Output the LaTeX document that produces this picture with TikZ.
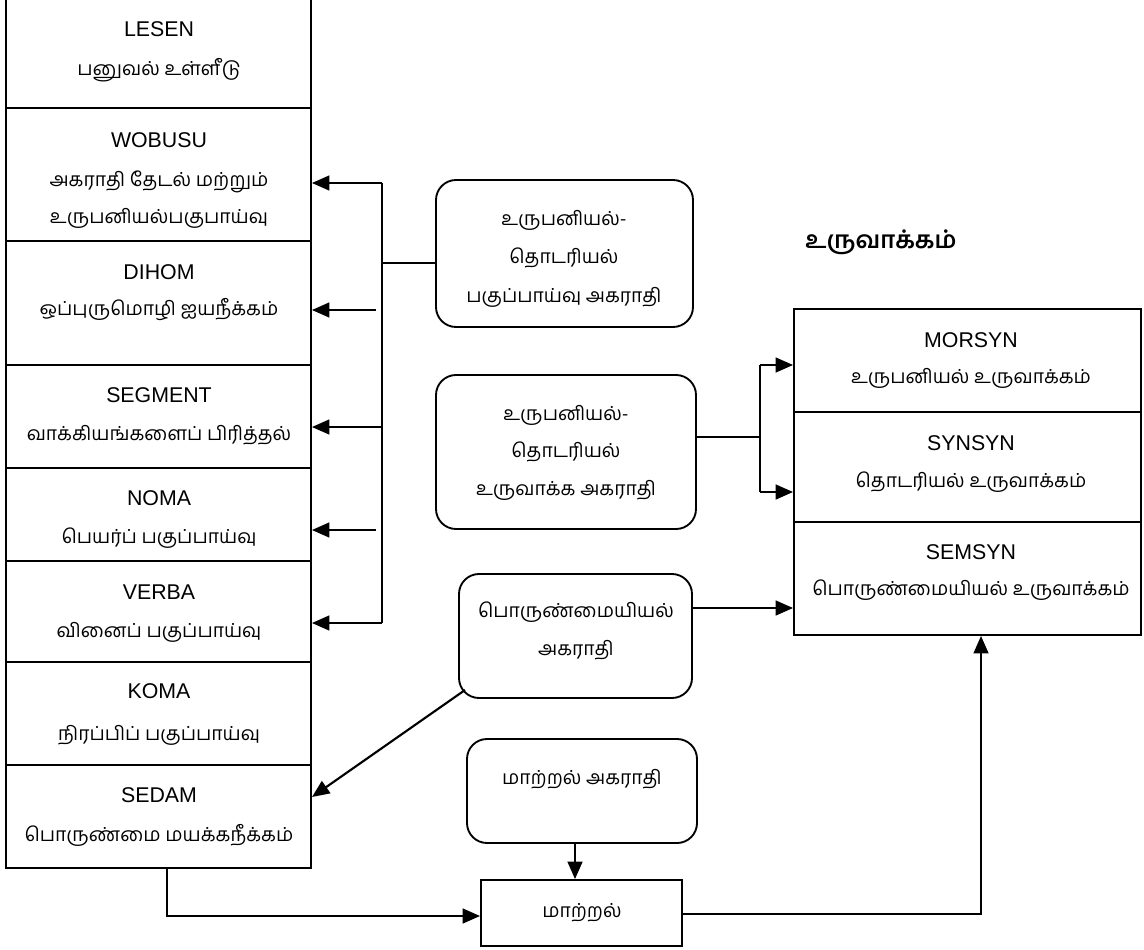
\documentclass[tikz,border=0pt]{standalone}
\usepackage{fontspec}
\setmainfont{Liberation Sans}
\newfontfamily\ta[Script=Tamil]{Hind Madurai}
\usetikzlibrary{arrows.meta,fit}
\tikzset{
  box/.style={draw, line width=1.4pt, inner sep=0pt},
  rbox/.style={draw, line width=1.4pt, inner sep=0pt, rounded corners=15pt},
  lat/.style={font=\fontsize{16}{18}\selectfont, inner sep=0pt},
  tam/.style={font=\fontsize{14.5}{16}\selectfont\ta, inner sep=0pt},
  ttl/.style={font=\fontsize{18}{20}\selectfont\ta\bfseries, inner sep=0pt},
  ln/.style={line width=1.5pt},
  arr/.style={line width=1.6pt, -{Triangle[length=13pt,width=11pt]}},
}
\begin{document}
\begin{tikzpicture}[x=0.75pt,y=-0.75pt]
\useasboundingbox (0,0) rectangle (1144,949);
% left column boxes
\node[box, fit={(6,-10)(311,108)}] (lesen) {};
\node[box, fit={(6,108)(311,241)}] (wobusu) {};
\node[box, fit={(6,241)(311,365)}] (dihom) {};
\node[box, fit={(6,365)(311,468)}] (segment) {};
\node[box, fit={(6,468)(311,561)}] (noma) {};
\node[box, fit={(6,561)(311,662)}] (verba) {};
\node[box, fit={(6,662)(311,765)}] (koma) {};
\node[box, fit={(6,765)(311,868)}] (sedam) {};
% left texts
\node[lat] (t1) at (159,29) {LESEN};
\node[tam] (t1a) at (159,70) {பனுவல் உள்ளீடு};
\node[lat] (t2) at (159,140) {WOBUSU};
\node[tam] (t2a) at (159,182) {அகராதி தேடல் மற்றும்};
\node[tam] (t2b) at (159,218) {உருபனியல்பகுபாய்வு};
\node[lat] (t3) at (159,272) {DIHOM};
\node[tam] (t3a) at (159,310) {ஒப்புருமொழி ஐயநீக்கம்};
\node[lat] (t4) at (159,395) {SEGMENT};
\node[tam] (t4a) at (159,435) {வாக்கியங்களைப் பிரித்தல்};
\node[lat] (t5) at (159,498) {NOMA};
\node[tam] (t5a) at (159,538) {பெயர்ப் பகுப்பாய்வு};
\node[lat] (t6) at (159,592) {VERBA};
\node[tam] (t6a) at (159,632) {வினைப் பகுப்பாய்வு};
\node[lat] (t7) at (159,691) {KOMA};
\node[tam] (t7a) at (159,735) {நிரப்பிப் பகுப்பாய்வு};
\node[lat] (t8) at (159,795) {SEDAM};
\node[tam] (t8a) at (159,835) {பொருண்மை மயக்கநீக்கம்};
% rounded dictionary boxes
\node[rbox, fit={(436,180)(693,327)}] (d1) {};
\node[tam] (d1a) at (564,220) {உருபனியல்-};
\node[tam] (d1b) at (564,258) {தொடரியல்};
\node[tam] (d1c) at (564,297) {பகுப்பாய்வு அகராதி};
\node[rbox, fit={(436,375)(696,529)}] (d2) {};
\node[tam] (d2a) at (566,415) {உருபனியல்-};
\node[tam] (d2b) at (566,452) {தொடரியல்};
\node[tam] (d2c) at (566,490) {உருவாக்க அகராதி};
\node[rbox, fit={(459,574)(692,698)}] (d3) {};
\node[tam] (d3a) at (576,612) {பொருண்மையியல்};
\node[tam] (d3b) at (576,650) {அகராதி};
\node[rbox, fit={(467,739)(697,843)}] (d4) {};
\node[tam] (d4a) at (582,779) {மாற்றல் அகராதி};
\node[box, fit={(481,880)(682,946)}] (mat) {};
\node[tam] (mata) at (582,913) {மாற்றல்};
% right column
\node[ttl] (title) at (881,242) {உருவாக்கம்};
\node[box, fit={(794,309)(1141,412)}] (morsyn) {};
\node[box, fit={(794,412)(1141,522)}] (synsyn) {};
\node[box, fit={(794,522)(1141,635)}] (semsyn) {};
\node[lat] (r1) at (971,340) {MORSYN};
\node[tam] (r1a) at (971,378) {உருபனியல் உருவாக்கம்};
\node[lat] (r2) at (971,443) {SYNSYN};
\node[tam] (r2a) at (971,482) {தொடரியல் உருவாக்கம்};
\node[lat] (r3) at (971,552) {SEMSYN};
\node[tam] (r3a) at (971,590) {பொருண்மையியல் உருவாக்கம்};
% bus on the left
\coordinate (busA) at (382,183);
\coordinate (busB) at (376,310);
\coordinate (busC) at (382,427);
\coordinate (busD) at (376,530);
\coordinate (busE) at (382,623);
\coordinate (busH) at (382,263);
\draw[ln] (busA) -- (busE);
\draw[arr] (busA) -- (busA -| wobusu.east);
\draw[arr] (busB) -- (busB -| dihom.east);
\draw[arr] (busC) -- (busC -| segment.east);
\draw[arr] (busD) -- (busD -| noma.east);
\draw[arr] (busE) -- (busE -| verba.east);
\draw[ln] (busH) -- (busH -| d1.west);
% d2 to MORSYN / SYNSYN
\coordinate (fk) at (760,437);
\coordinate (fkA) at (760,365);
\coordinate (fkB) at (760,492);
\draw[ln] (fk -| d2.east) -- (fk);
\draw[ln] (fkA) -- (fkB);
\draw[arr] (fkA) -- (fkA -| morsyn.west);
\draw[arr] (fkB) -- (fkB -| synsyn.west);
% d3 to SEMSYN and SEDAM
\coordinate (sm) at (692,608);
\draw[arr] (sm) -- (sm -| semsyn.west);
\coordinate (dg) at (465,690);
\coordinate (sd) at (312,797);
\draw[arr] (dg) -- (sd);
% d4 to maatral
\coordinate (dx) at (575,0);
\draw[arr] (d4.south -| dx) -- (mat.north -| dx);
% SEDAM to maatral
\coordinate (sb) at (167,916);
\draw[arr] (sedam.south -| sb) -- (sb) -- (sb -| mat.west);
% maatral to SEMSYN
\coordinate (mr) at (981,914);
\draw[arr] (mr -| mat.east) -- (mr) -- (mr |- semsyn.south);
\end{tikzpicture}
\end{document}
